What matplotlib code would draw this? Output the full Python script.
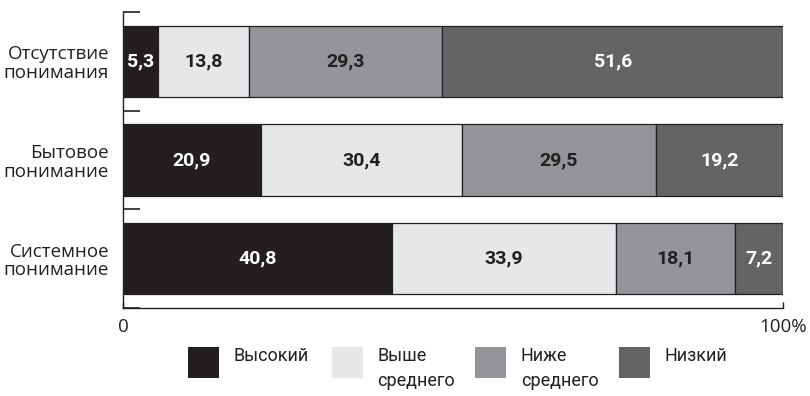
import numpy as np
import matplotlib.pyplot as plt
from matplotlib.patches import Rectangle

# understanding levels (rows, top to bottom) and result groups (segments)
rows = ["Отсутствие\nпонимания", "Бытовое\nпонимание", "Системное\nпонимание"]
groups = ["Высокий", "Выше\nсреднего", "Ниже\nсреднего", "Низкий"]
high = [5.3, 20.9, 40.8]
above_avg = [13.8, 30.4, 33.9]
below_avg = [29.3, 29.5, 18.1]
low = [51.6, 19.2, 7.2]

colors = ["#231f20", "#e6e7e8", "#939598", "#636466"]
text_colors = ["white", "#231f20", "#231f20", "white"]

narrow = ["Roboto", "DejaVu Sans"]
plain = ["Open Sans", "DejaVu Sans"]

fig = plt.figure(figsize=(8.1, 3.96), dpi=100)
ax = fig.add_axes([123 / 810, 1 - 308 / 396, 660 / 810, 296 / 396])

y = np.arange(len(rows))
left = np.zeros(len(rows))
for vals, col, tcol in zip([high, above_avg, below_avg, low], colors, text_colors):
    vals = np.array(vals)
    ax.barh(y, vals, left=left, height=0.72, color=col,
            edgecolor="#231f20", linewidth=0.9)
    for yi, l, v in zip(y, left, vals):
        ax.text(l + v / 2, yi, f"{v:.1f}".replace(".", ","), ha="center",
                va="center", color=tcol, fontsize=14, fontweight="bold",
                family=narrow)
    left += vals

ax.set_xlim(0, 100)
ax.set_ylim(len(rows) - 0.5, -0.5)

# row separators on the left axis, row names as minor ticks
ax.set_yticks(np.arange(len(rows) + 1) - 0.5)
ax.set_yticklabels([])
ax.set_yticks(y, minor=True)
ax.set_yticklabels(rows, minor=True, fontsize=13.5, family=plain,
                   multialignment="right", linespacing=1.05)
ax.tick_params(axis="y", which="major", direction="in", length=12,
               width=1.2, color="#231f20")
ax.tick_params(axis="y", which="minor", length=0, pad=10, labelcolor="#231f20")

ax.set_xticks([0, 100])
ax.set_xticklabels(["0", "100%"], fontsize=13.5, family=plain, color="#231f20")
ax.tick_params(axis="x", direction="in", length=4, width=1.0,
               color="#231f20", pad=7)

for s in ["top", "right"]:
    ax.spines[s].set_visible(False)
for s in ["left", "bottom"]:
    ax.spines[s].set_color("#231f20")
    ax.spines[s].set_linewidth(1.0)

# legend drawn as squares with labels below the axes
for i, (name, col) in enumerate(zip(groups, colors)):
    x0 = (188 + i * 143.5) / 810
    fig.add_artist(Rectangle((x0, 1 - 378 / 396), 31 / 810, 31 / 396,
                             transform=fig.transFigure, facecolor=col,
                             edgecolor="none"))
    fig.text(x0 + 46 / 810, 1 - 347 / 396, name, ha="left", va="top",
             fontsize=13, color="#231f20", linespacing=1.5, family=narrow)

fig.savefig("out.png", dpi=100)
